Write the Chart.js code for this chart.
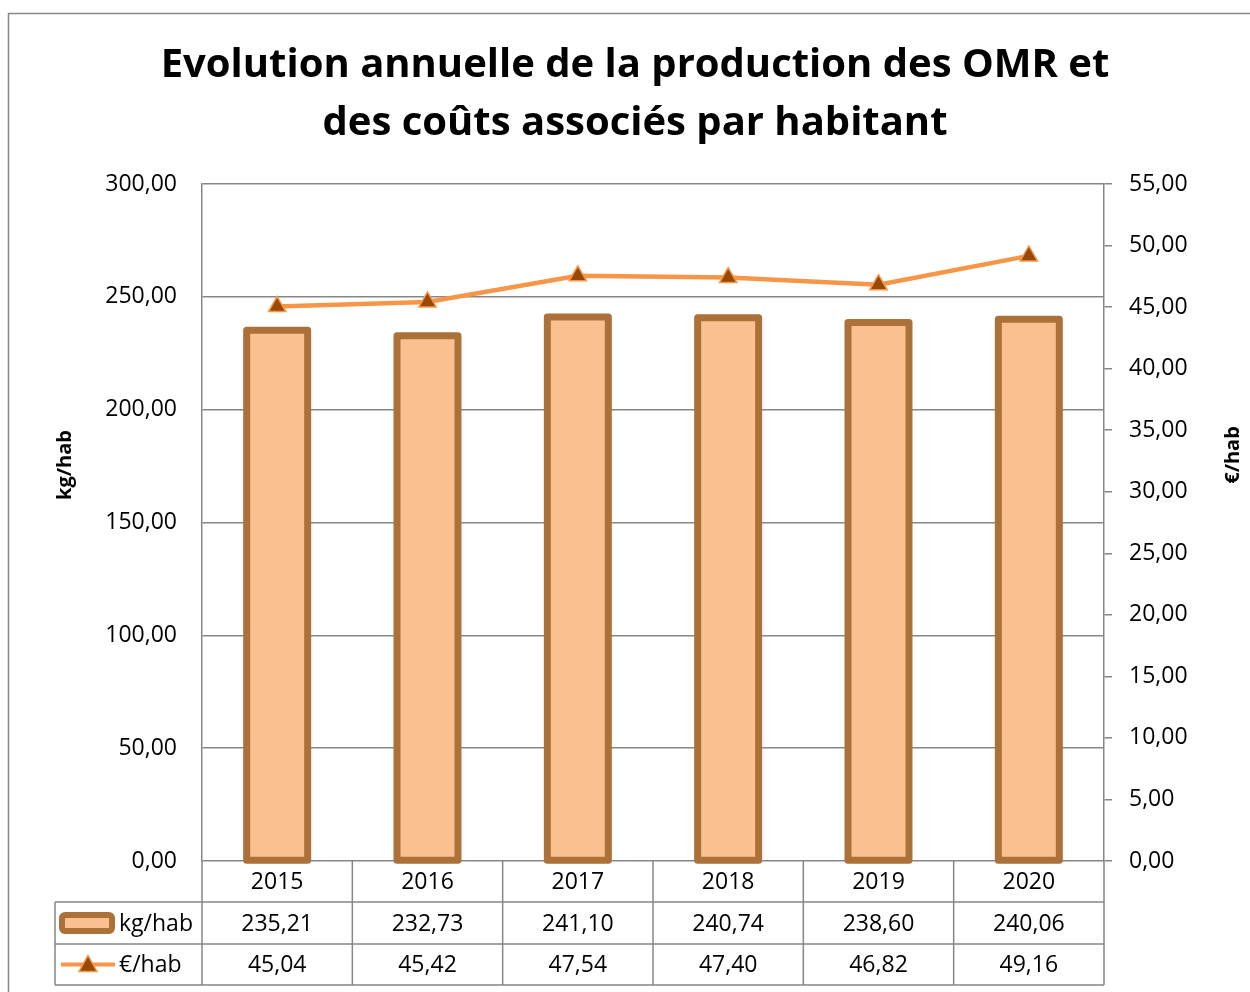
<!DOCTYPE html>
<html>
<head>
<meta charset="utf-8">
<script src="https://cdn.jsdelivr.net/npm/chart.js@4.4.1/dist/chart.umd.min.js"></script>
<style>
  html, body { margin: 0; padding: 0; background: #fff; }
  #wrap { width: 1250px; height: 992px; position: relative; }
</style>
</head>
<body>
<div id="wrap"><canvas id="omrChart" width="1250" height="992"></canvas></div>
<script>
// Data
const years = ["2015", "2016", "2017", "2018", "2019", "2020"];
const kgHab = [235.21, 232.73, 241.10, 240.74, 238.60, 240.06];
const euroHab = [45.04, 45.42, 47.54, 47.40, 46.82, 49.16];
const titleLines = ["Evolution annuelle de la production des OMR et", "des coûts associés par habitant"];
const kgLabel = "kg/hab";
const euroLabel = "€/hab";

const FONT = "'Open Sans', sans-serif";
const GRID = "#868686";
const BAR_FILL = "#FAC08F";
const BAR_EDGE = "#AB7139";
const LINE_COL = "#F79646";
const MARK_COL = "#984807";

function fmt(v) {
    return v.toFixed(2).replace(".", ",");
}

// Excel-style bar outline: stroke centred on the bar edge
const barEdgePlugin = {
    id: "barEdge",
    afterDatasetDraw(chart, args) {
        if (args.meta.type !== "bar") return;
        const c = chart.ctx;
        c.save();
        c.strokeStyle = BAR_EDGE;
        c.lineWidth = 7;
        c.lineJoin = "round";
        args.meta.data.forEach(bar => {
            const p = bar.getProps(["x", "y", "width", "base"], true);
            c.strokeRect(p.x - p.width / 2, p.y, p.width, p.base - p.y);
        });
        c.restore();
    }
};

// Background, border, title, axis titles and the data table under the plot
const decorPlugin = {
    id: "decor",
    beforeDraw(chart) {
        const c = chart.ctx;
        c.save();
        c.fillStyle = "#fff";
        c.fillRect(0, 0, chart.width, chart.height);
        c.strokeStyle = GRID;
        c.lineWidth = 1.5;
        c.strokeRect(8.5, 13.5, chart.width + 10, chart.height + 10);
        c.restore();
    },
    afterDraw(chart) {
        const c = chart.ctx;
        const area = chart.chartArea;
        const x = chart.scales.x;
        const colW = (area.right - area.left) / years.length;

        c.save();
        // title
        c.fillStyle = "#000";
        c.font = "bold 40px " + FONT;
        c.textAlign = "center";
        c.textBaseline = "middle";
        c.fillText(titleLines[0], 635, 66);
        c.fillText(titleLines[1], 635, 124);

        // axis titles
        c.font = "bold 20px " + FONT;
        c.save();
        c.translate(65, 465);
        c.rotate(-Math.PI / 2);
        c.fillText(kgLabel, 0, 0);
        c.restore();
        c.save();
        c.translate(1233, 455);
        c.rotate(-Math.PI / 2);
        c.fillText(euroLabel, 0, 0);
        c.restore();

        // table grid
        const rows = [area.bottom, area.bottom + 41, area.bottom + 83, area.bottom + 124];
        const keyLeft = 55;
        c.strokeStyle = GRID;
        c.lineWidth = 1.5;
        c.beginPath();
        for (let r = 1; r < rows.length; r++) {
            c.moveTo(keyLeft, rows[r]);
            c.lineTo(area.right, rows[r]);
        }
        for (let k = 0; k <= years.length; k++) {
            const xx = area.left + k * colW;
            c.moveTo(xx, rows[0]);
            c.lineTo(xx, rows[3]);
        }
        c.moveTo(keyLeft, rows[1]);
        c.lineTo(keyLeft, rows[3]);
        c.stroke();

        // table text
        c.fillStyle = "#000";
        c.font = "23px " + FONT;
        c.textAlign = "center";
        years.forEach((yr, i) => {
            const cx = x.getPixelForValue(i);
            c.fillText(yr, cx, (rows[0] + rows[1]) / 2 + 1);
            c.fillText(fmt(kgHab[i]), cx, (rows[1] + rows[2]) / 2 + 1);
            c.fillText(fmt(euroHab[i]), cx, (rows[2] + rows[3]) / 2 + 1);
        });

        // legend keys
        const y1 = (rows[1] + rows[2]) / 2;
        const y2 = (rows[2] + rows[3]) / 2;
        c.textAlign = "left";
        c.fillText(kgLabel, 119, y1 + 1);
        c.fillText(euroLabel, 119, y2 + 1);

        c.fillStyle = BAR_FILL;
        c.strokeStyle = BAR_EDGE;
        c.lineWidth = 6;
        c.beginPath();
        c.roundRect(62, y1 - 8, 50, 16, 3);
        c.fill();
        c.stroke();

        c.strokeStyle = LINE_COL;
        c.lineWidth = 4;
        c.beginPath();
        c.moveTo(61, y2);
        c.lineTo(115, y2);
        c.stroke();
        c.fillStyle = MARK_COL;
        c.lineWidth = 1.5;
        c.beginPath();
        c.moveTo(88, y2 - 9);
        c.lineTo(97, y2 + 7);
        c.lineTo(79, y2 + 7);
        c.closePath();
        c.fill();
        c.stroke();
        c.restore();
    }
};

const ctx = document.getElementById("omrChart").getContext("2d");

new Chart(ctx, {
    data: {
        labels: years,
        datasets: [
            {
                type: "line",
                label: euroLabel,
                data: euroHab,
                yAxisID: "y1",
                order: 0,
                borderColor: LINE_COL,
                borderWidth: 4.5,
                tension: 0,
                pointStyle: "triangle",
                pointRadius: 10,
                pointBackgroundColor: MARK_COL,
                pointBorderColor: LINE_COL,
                pointBorderWidth: 1.5
            },
            {
                type: "bar",
                label: kgLabel,
                data: kgHab,
                yAxisID: "y",
                order: 1,
                backgroundColor: BAR_FILL,
                borderWidth: 0,
                barThickness: 61
            }
        ]
    },
    options: {
        responsive: false,
        animation: false,
        layout: { padding: { top: 184, bottom: 131, left: 0, right: 0 } },
        plugins: {
            legend: { display: false },
            title: { display: false },
            tooltip: { enabled: false }
        },
        scales: {
            x: {
                display: false,
                offset: true
            },
            y: {
                position: "left",
                min: 0,
                max: 300,
                afterFit: (s) => { s.width = 202; },
                grid: { color: GRID, lineWidth: 1.5, drawTicks: false },
                border: { color: GRID, width: 1.5 },
                ticks: {
                    stepSize: 50,
                    padding: 25,
                    color: "#000",
                    font: { family: FONT, size: 23 },
                    callback: (v) => fmt(v)
                }
            },
            y1: {
                position: "right",
                min: 0,
                max: 55,
                afterFit: (s) => { s.width = 146; },
                grid: { drawOnChartArea: false, color: GRID, lineWidth: 1.5, tickLength: 8 },
                border: { color: GRID, width: 1.5 },
                ticks: {
                    stepSize: 5,
                    padding: 17,
                    color: "#000",
                    font: { family: FONT, size: 23 },
                    callback: (v) => fmt(v)
                }
            }
        }
    },
    plugins: [barEdgePlugin, decorPlugin]
});
</script>
</body>
</html>
